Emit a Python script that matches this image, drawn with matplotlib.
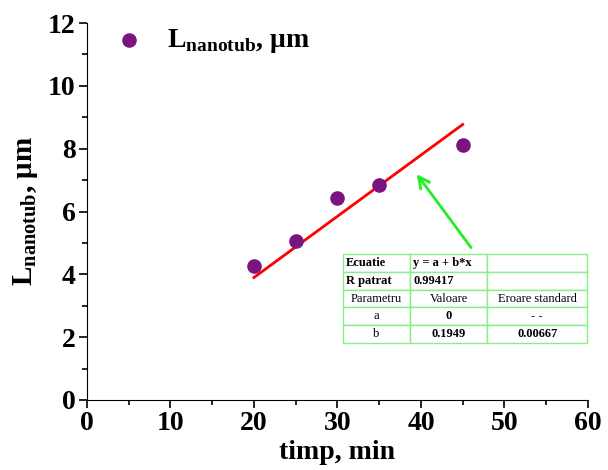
import matplotlib
matplotlib.use("Agg")
import matplotlib.pyplot as plt
from matplotlib.ticker import MultipleLocator
import numpy as np

plt.rcParams['font.family'] = ['Liberation Serif', 'DejaVu Serif']
plt.rcParams['mathtext.fontset'] = 'custom'
plt.rcParams['mathtext.rm'] = 'Liberation Serif:bold'
plt.rcParams['mathtext.bf'] = 'Liberation Serif:bold'

time_min = [20, 25, 30, 35, 45]
length_um = [4.25, 5.05, 6.42, 6.85, 8.12]
slope_b = 0.1949
fit_x = [20, 45]

table_rows = [["Ecuatie", "y = a + b*x", ""],
              ["R patrat", "0.99417", ""],
              ["Parametru", "Valoare", "Eroare standard"],
              ["a", "0", "- -"],
              ["b", "0.1949", "0.00667"]]

fig = plt.figure(figsize=(6.08, 4.70), dpi=100)
ax = fig.add_axes([0.143, 0.149, 0.824, 0.802])

ax.scatter(time_min, length_um, s=90, color='#7a157f', zorder=3,
           label=r'L$_{\mathbf{nanotub}}$, μm')
fx = np.array(fit_x)
ax.plot(fx, slope_b * fx, color='#ff0000', lw=2, zorder=2)

ax.annotate('', xy=(39.3, 7.26), xytext=(46.2, 4.78),
            arrowprops=dict(arrowstyle='->', color='#22ee22', lw=2,
                            mutation_scale=20))

ax.set_xlim(0, 60)
ax.set_ylim(0, 12)
ax.xaxis.set_major_locator(MultipleLocator(10))
ax.xaxis.set_minor_locator(MultipleLocator(5))
ax.yaxis.set_major_locator(MultipleLocator(2))
ax.yaxis.set_minor_locator(MultipleLocator(1))
ax.spines['top'].set_visible(False)
ax.spines['right'].set_visible(False)
ax.tick_params(which='major', direction='out', length=6, width=1.2, labelsize=20, pad=2)
ax.tick_params(which='minor', direction='out', length=3.5, width=1.2)
for lab in ax.get_xticklabels() + ax.get_yticklabels():
    lab.set_fontweight('bold')

ax.set_xlabel('timp, min', fontsize=20, fontweight='bold', labelpad=3)
ax.set_ylabel(r'L$_{\mathbf{nanotub}}$, μm', fontsize=21, fontweight='bold', labelpad=6)

leg = ax.legend(loc='upper left', bbox_to_anchor=(0.0, 1.055), frameon=False,
                prop={'size': 20, 'weight': 'bold'}, handletextpad=0.8,
                handlelength=1.2, scatterpoints=1, markerscale=1.0)

tbl = ax.table(cellText=table_rows, colWidths=[0.135, 0.155, 0.2],
               bbox=[0.511, 0.151, 0.487, 0.236], cellLoc='left')
tbl.auto_set_font_size(False)
tbl.set_fontsize(9)
for (r, c), cell in tbl.get_celld().items():
    cell.set_edgecolor('#88ee88')
    cell.set_linewidth(1)
    cell.set_facecolor('white')
    cell.PAD = 0.04
    txt = cell.get_text()
    if r >= 2:
        txt.set_ha('center')
        cell._loc = 'center'
    if r < 2 and c < 2:
        txt.set_fontweight('bold')
    if r >= 3 and c >= 1:
        txt.set_fontweight('bold')
tbl.set_zorder(5)

fig.savefig('out.png', dpi=100)
